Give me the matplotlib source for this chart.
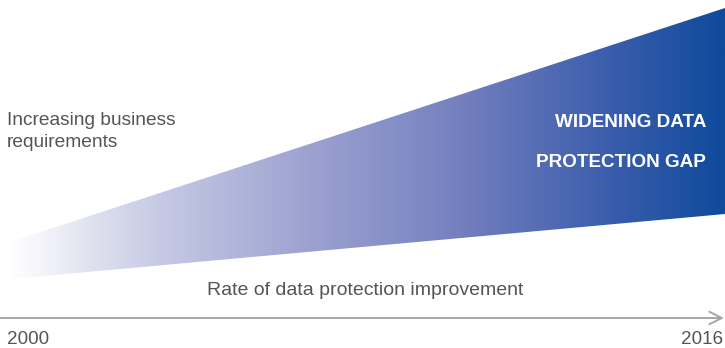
import matplotlib
matplotlib.use("Agg")
import matplotlib.pyplot as plt
import numpy as np
from matplotlib.colors import LinearSegmentedColormap
from matplotlib.patches import Polygon

plt.rcParams['font.family'] = ['Liberation Sans', 'DejaVu Sans']

# Data (arbitrary index units)
years = [2000, 2016]
business_requirements = [106, 340]
protection_rate = [69, 134]
year_labels = ["2000", "2016"]

W, H = 725, 348
fig = plt.figure(figsize=(W / 100, H / 100), dpi=100)
ax = fig.add_axes([0, 0, 1, 1])
px_per_year = 715 / 16
x0 = years[0] - 10 / px_per_year
ax.set_xlim(x0, years[1])
ax.set_ylim(0, H)
ax.axis('off')

cmap = LinearSegmentedColormap.from_list(
    "gap", [(0.0, "#ffffff"), (0.2, "#c8cbe5"), (0.42, "#9ca2d0"),
            (0.63, "#7480bf"), (0.82, "#4060ae"), (1.0, "#0f4a9c")])

grad = np.linspace(0, 1, 512).reshape(1, -1)
im = ax.imshow(grad, cmap=cmap, aspect='auto',
               extent=[years[0], years[1], min(protection_rate), max(business_requirements)],
               zorder=1, interpolation='bilinear')
poly = Polygon([(years[0], protection_rate[0]), (years[0], business_requirements[0]),
                (years[1], business_requirements[1]), (years[1], protection_rate[1])],
               closed=True, facecolor='none', edgecolor='none')
ax.add_patch(poly)
im.set_clip_path(poly)

# Arrow axis
arrow_y = 348 - 318
ax.annotate("", xy=(years[1] - 1 / px_per_year, arrow_y), xytext=(x0, arrow_y),
            arrowprops=dict(arrowstyle="->,head_length=0.9,head_width=0.45",
                            color="#a6a6a6", lw=1.4, shrinkA=0, shrinkB=0))

txt = "#555555"
ax.text(x0 + 7 / px_per_year, 348 - 344, year_labels[0], ha='left', va='baseline',
        fontsize=13.6, color=txt)
ax.text(years[1] - 2 / px_per_year, 348 - 344, year_labels[1], ha='right', va='baseline',
        fontsize=13.6, color=txt)

ax.text(x0 + 7 / px_per_year, 348 - 147, "Increasing business\nrequirements",
        ha='left', va='baseline', fontsize=13.8, color=txt, linespacing=1.35)
ax.text(x0 + 365 / px_per_year, 348 - 295, "Rate of data protection improvement",
        ha='center', va='baseline', fontsize=14, color=txt)

ax.text(years[1] - 19 / px_per_year, 348 - 127, "WIDENING DATA", ha='right',
        va='baseline', fontsize=13.6, color='white', fontweight='bold')
ax.text(years[1] - 19 / px_per_year, 348 - 167, "PROTECTION GAP", ha='right',
        va='baseline', fontsize=13.6, color='white', fontweight='bold')

fig.savefig("out.png", dpi=100)
